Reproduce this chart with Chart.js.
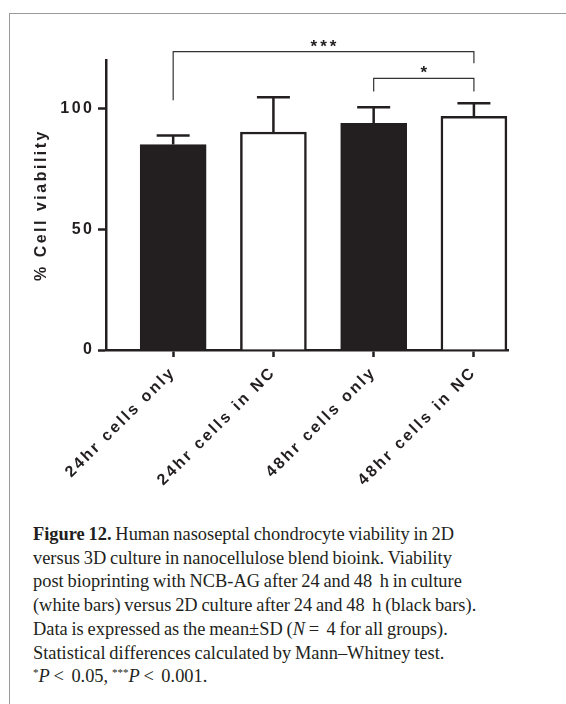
<!DOCTYPE html>
<html>
<head>
<meta charset="utf-8">
<script src="https://cdn.jsdelivr.net/npm/chart.js@4"></script>
<style>
  html, body { margin: 0; padding: 0; background: #fff; }
  body { width: 566px; height: 704px; position: relative; overflow: hidden; }
  #frame { position: absolute; left: 9px; top: 13px; width: 600px; height: 800px;
           border-left: 1.5px solid #9a9a9a; border-top: 1.5px solid #9a9a9a; }
  #wrap { position: absolute; left: 0; top: 0; width: 566px; height: 520px; }
  #caption { position: absolute; left: 33px; top: 523px; width: 530px;
             font-family: "Liberation Serif", serif; font-size: 18.4px; line-height: 23.7px;
             word-spacing: -0.8px; color: #231f20; white-space: nowrap; }
  #caption sup { font-size: 11px; vertical-align: 6px; line-height: 0; }
</style>
</head>
<body>
<div id="frame"></div>
<div id="wrap"><canvas id="viabilityCanvas"></canvas></div>
<div id="caption">
<b>Figure 12.</b> Human nasoseptal chondrocyte viability in 2D<br>
versus 3D culture in nanocellulose blend bioink. Viability<br>
post bioprinting with NCB-AG after 24 and 48&thinsp; h in culture<br>
(white bars) versus 2D culture after 24 and 48&thinsp; h (black bars).<br>
Data is expressed as the mean&plusmn;SD (<i>N</i> = &thinsp;4 for all groups).<br>
Statistical differences calculated by Mann&ndash;Whitney test.<br>
<sup>*</sup><i>P</i> &lt; &thinsp;0.05, <sup>***</sup><i>P</i> &lt; &thinsp;0.001.
</div>

<script>
  const categories = ["24hr cells only", "24hr cells in NC", "48hr cells only", "48hr cells in NC"]
  const viability = [85, 90.2, 93.8, 96.7]
  const viabilitySd = [3.8, 14.4, 6.7, 5.4]
  const yTicks = [0, 50, 100]

  // significance brackets, heights in % units
  const bracketFrom = [0, 2]
  const bracketTo = [3, 3]
  const bracketLevel = [123.5, 112.4]
  const bracketLeftEnd = [103.3, 107]
  const bracketRightEnd = [118.7, 107]
  const bracketLabel = ["***", "*"]

  const ink = '#231f20'
  const fills = [ink, '#ffffff', ink, '#ffffff']

  const spacing = {
    id: 'spacing',
    beforeDraw(chart) {
      chart.ctx.letterSpacing = '2.5px'
    }
  }

  const errorBars = {
    id: 'errorBars',
    afterDatasetsDraw(chart) {
      const {ctx, scales: {y}} = chart
      const bars = chart.getDatasetMeta(0).data
      ctx.save()
      ctx.strokeStyle = ink
      ctx.lineWidth = 2.5
      bars.forEach((bar, i) => {
        const top = y.getPixelForValue(viability[i] + viabilitySd[i])
        const base = y.getPixelForValue(viability[i])
        const half = bar.width / 4
        ctx.beginPath()
        ctx.moveTo(bar.x, base)
        ctx.lineTo(bar.x, top)
        ctx.moveTo(bar.x - half, top)
        ctx.lineTo(bar.x + half, top)
        ctx.stroke()
      })
      ctx.restore()
    }
  }

  const brackets = {
    id: 'brackets',
    afterDraw(chart) {
      const {ctx, scales: {x, y}} = chart
      ctx.save()
      ctx.letterSpacing = '3px'
      ctx.strokeStyle = '#333'
      ctx.lineWidth = 1.2
      ctx.fillStyle = ink
      ctx.font = 'bold 17px "Liberation Sans", Arial, sans-serif'
      ctx.textAlign = 'center'
      ctx.textBaseline = 'alphabetic'
      bracketLabel.forEach((label, i) => {
        const x1 = x.getPixelForValue(bracketFrom[i])
        const x2 = x.getPixelForValue(bracketTo[i])
        const yl = y.getPixelForValue(bracketLevel[i])
        ctx.beginPath()
        ctx.moveTo(x1, y.getPixelForValue(bracketLeftEnd[i]))
        ctx.lineTo(x1, yl)
        ctx.lineTo(x2, yl)
        ctx.lineTo(x2, y.getPixelForValue(bracketRightEnd[i]))
        ctx.stroke()
        ctx.fillText(label, (x1 + x2) / 2 + 1.5, yl)
      })
      ctx.restore()
    }
  }

  const tickFont = {family: '"Liberation Sans", Arial, sans-serif', size: 16, weight: 'bold'}

  new Chart(document.getElementById('viabilityCanvas'), {
    type: 'bar',
    data: {
      datasets: [{
        data: viability.map((v, i) => ({x: i, y: v})),
        backgroundColor: fills,
        borderColor: ink,
        borderWidth: 2.5,
        barThickness: 66,
      }]
    },
    options: {
      responsive: true,
      maintainAspectRatio: false,
      animation: false,
      layout: {padding: {top: 60, right: 58, left: 0, bottom: 0}},
      plugins: {legend: {display: false}, tooltip: {enabled: false}},
      scales: {
        x: {
          type: 'linear',
          offset: false,
          min: -0.67,
          max: 3.34,
          afterBuildTicks: (scale) => { scale.ticks = categories.map((c, i) => ({value: i})) },
          afterFit: (scale) => { scale.height = 170 },
          grid: {display: true, offset: false, drawOnChartArea: false, tickLength: 7, tickWidth: 2.5, color: ink},
          border: {display: true, color: ink, width: 2.5},
          ticks: {
            autoSkip: false,
            minRotation: 45,
            maxRotation: 45,
            padding: 6,
            color: ink,
            font: tickFont,
            callback: (v) => categories[v],
          },
        },
        y: {
          min: 0,
          max: 120,
          afterBuildTicks: (scale) => { scale.ticks = yTicks.map(v => ({value: v})) },
          afterFit: (scale) => { scale.width = 106 },
          grid: {display: true, drawOnChartArea: false, tickLength: 8, tickWidth: 2.5, color: ink},
          border: {display: true, color: ink, width: 2.5},
          ticks: {padding: 3.5, color: ink, font: tickFont},
          title: {
            display: true,
            text: '% Cell viability',
            color: ink,
            font: tickFont,
            padding: {top: 32, bottom: 0},
          },
        },
      },
    },
    plugins: [spacing, errorBars, brackets],
  })
</script>
</body>
</html>
